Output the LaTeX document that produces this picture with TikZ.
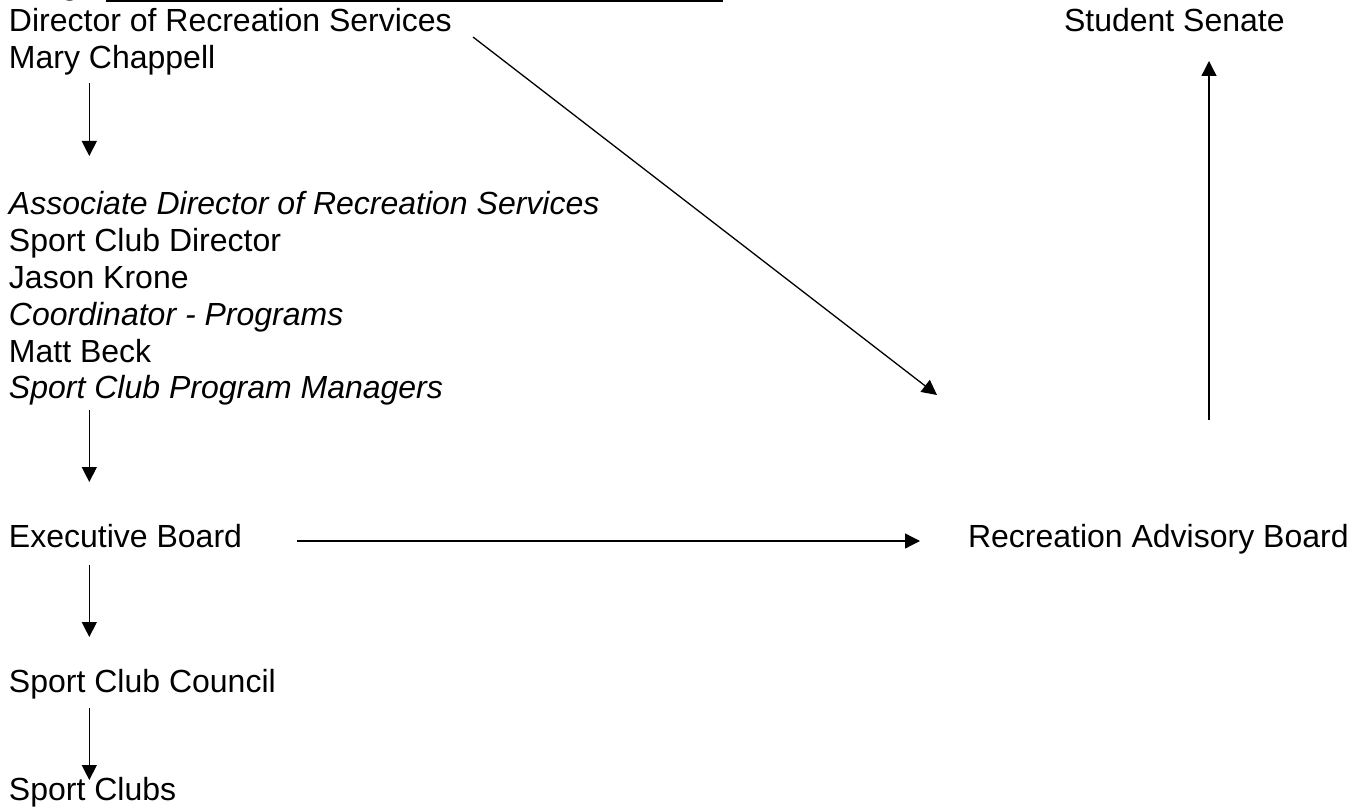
\documentclass[tikz,border=0pt]{standalone}
\usepackage{fontspec}
\setmainfont{Liberation Sans}
\usetikzlibrary{arrows.meta}
\begin{document}
\begin{tikzpicture}[x=1pt,y=-1pt,
  lbl/.style={anchor=base west,inner sep=0pt,outer sep=0pt,font=\fontsize{32}{36.8}\selectfont},
  ilbl/.style={lbl,font=\fontsize{32}{36.8}\selectfont\itshape},
  conn/.style={line width=1.3pt,-{Triangle[length=15pt,width=15pt]}}]
\useasboundingbox (0,0) rectangle (1353,810);
\begin{scope}
\clip (0,0) rectangle (1353,810);
\node[lbl] (frag) at (61,-5) {g};
\fill (106,-1) rectangle (723,2.5);
\end{scope}
% left column
\node[lbl] (dir) at (9,31.7) {Director of Recreation Services};
\node[lbl] (mary) at (9,68.5) {Mary Chappell};
\node[ilbl] (assoc) at (9,215) {Associate Director of Recreation Services};
\node[lbl] (scd) at (9,251.8) {Sport Club Director};
\node[lbl] (jason) at (9,288.6) {Jason Krone};
\node[ilbl] (coord) at (9,325.4) {Coordinator - Programs};
\node[lbl] (matt) at (9,362.2) {Matt Beck};
\node[ilbl] (mgr) at (9,399) {Sport Club Program Managers};
\node[lbl] (exec) at (9,547) {Executive Board};
\node[lbl] (council) at (9,692) {Sport Club Council};
\node[lbl] (clubs) at (9,800) {Sport Clubs};
% right column
\node[lbl] (senate) at (1064,32) {Student Senate};
\node[lbl] (rab) at (968,547) {Recreation Advisory Board};
% connector end points
\coordinate (m1) at (89.3,83);
\coordinate (m2) at (89.3,156);
\coordinate (p1) at (89.3,410);
\coordinate (p2) at (89.3,482);
\coordinate (e1) at (89.3,565);
\coordinate (e2) at (89.3,637);
\coordinate (c1) at (89.3,708);
\coordinate (c2) at (89.3,780);
\coordinate (d1) at (473,37);
\coordinate (d2) at (937,395);
\coordinate (h1) at (297,541);
\coordinate (h2) at (920,541);
\coordinate (s1) at (1209,420);
\coordinate (s2) at (1209,61);
\draw[conn] (m1) -- (m2);
\draw[conn] (p1) -- (p2);
\draw[conn] (e1) -- (e2);
\draw[conn] (c1) -- (c2);
\draw[conn] (d1) -- (d2);
\draw[conn] (h1) -- (h2);
\draw[conn] (s1) -- (s2);
\end{tikzpicture}
\end{document}
